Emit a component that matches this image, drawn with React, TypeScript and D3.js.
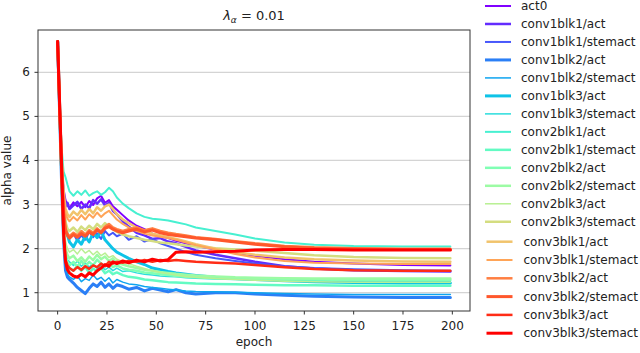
import * as d3 from "d3";

// sampled epochs (dense early, sparse once curves flatten)
const epochs = [0, 1, 2, 3, 4, 5, 6, 8, 10, 12, 14, 16, 18, 20, 22, 24, 26, 28, 30, 33, 36, 40, 44, 48, 52, 56, 60, 65, 70, 80, 90, 100, 115, 130, 150, 175, 199];

const names = [
  "act0",
  "conv1blk1/act", "conv1blk1/stemact",
  "conv1blk2/act", "conv1blk2/stemact",
  "conv1blk3/act", "conv1blk3/stemact",
  "conv2blk1/act", "conv2blk1/stemact",
  "conv2blk2/act", "conv2blk2/stemact",
  "conv2blk3/act", "conv2blk3/stemact",
  "conv3blk1/act", "conv3blk1/stemact",
  "conv3blk2/act", "conv3blk2/stemact",
  "conv3blk3/act", "conv3blk3/stemact",
];

const act0 = [6.7, 5.3, 4.0, 3.35, 3.1, 2.98, 2.92, 3.05, 2.96, 3.06, 2.94, 3.08, 2.99, 3.14, 3.2, 3.04, 3.1, 2.96, 2.88, 2.76, 2.64, 2.52, 2.44, 2.34, 2.28, 2.24, 2.18, 2.12, 2.06, 1.98, 1.9, 1.84, 1.76, 1.7, 1.66, 1.63, 1.62];
const c1b1Act = [6.7, 5.25, 3.9, 3.2, 2.96, 3.04, 2.9, 2.98, 3.06, 2.9, 3.0, 2.92, 3.1, 3.02, 3.12, 2.98, 3.04, 2.86, 2.78, 2.62, 2.5, 2.36, 2.3, 2.22, 2.24, 2.16, 2.12, 2.04, 1.96, 1.86, 1.78, 1.7, 1.6, 1.55, 1.51, 1.49, 1.48];
const c1b1Stem = [6.7, 5.2, 3.7, 2.8, 2.45, 2.3, 2.22, 2.34, 2.18, 2.3, 2.2, 2.38, 2.26, 2.35, 2.22, 2.4, 2.3, 2.36, 2.28, 2.34, 2.2, 2.28, 2.16, 2.22, 2.12, 2.06, 2.0, 1.92, 1.86, 1.78, 1.72, 1.66, 1.6, 1.56, 1.53, 1.51, 1.5];
const c1b2Act = [6.7, 5.1, 3.5, 2.2, 1.5, 1.35, 1.3, 1.22, 1.12, 1.05, 0.98, 1.1, 1.2, 1.14, 1.24, 1.12, 1.2, 1.1, 1.18, 1.14, 1.08, 1.12, 1.04, 1.1, 1.06, 1.02, 1.07, 1.0, 0.97, 1.0, 1.0, 0.97, 0.94, 0.92, 0.9, 0.89, 0.89];
const c1b2Stem = [6.7, 5.15, 3.6, 2.4, 1.6, 1.42, 1.36, 1.3, 1.38, 1.25, 1.32, 1.28, 1.4, 1.3, 1.35, 1.26, 1.34, 1.22, 1.3, 1.24, 1.2, 1.18, 1.14, 1.12, 1.1, 1.08, 1.06, 1.04, 1.03, 1.02, 1.01, 1.0, 0.98, 0.97, 0.96, 0.96, 0.96];
const c1b3Act = [6.7, 5.25, 3.8, 2.9, 2.5, 2.3, 2.15, 2.04, 2.2, 2.1, 2.28, 2.15, 2.36, 2.25, 2.4, 2.2, 2.1, 2.0, 1.92, 1.85, 1.78, 1.7, 1.64, 1.56, 1.52, 1.48, 1.45, 1.42, 1.39, 1.35, 1.32, 1.3, 1.27, 1.25, 1.23, 1.22, 1.22];
const c1b3Stem = [6.7, 5.2, 3.6, 2.5, 1.9, 1.75, 1.7, 1.62, 1.72, 1.6, 1.68, 1.58, 1.66, 1.55, 1.62, 1.52, 1.58, 1.5, 1.56, 1.48, 1.5, 1.45, 1.42, 1.4, 1.38, 1.37, 1.36, 1.34, 1.33, 1.31, 1.3, 1.29, 1.28, 1.27, 1.27, 1.26, 1.26];
const c2b1Act = [6.7, 5.35, 4.3, 3.75, 3.62, 3.45, 3.3, 3.2, 3.3, 3.22, 3.32, 3.2, 3.26, 3.3, 3.22, 3.28, 3.38, 3.3, 3.16, 3.02, 2.92, 2.8, 2.72, 2.68, 2.66, 2.64, 2.6, 2.55, 2.48, 2.4, 2.32, 2.23, 2.14, 2.09, 2.06, 2.05, 2.05];
const c2b1Stem = [6.7, 5.15, 3.5, 2.3, 1.75, 1.62, 1.55, 1.5, 1.62, 1.5, 1.58, 1.45, 1.55, 1.48, 1.56, 1.44, 1.5, 1.42, 1.46, 1.4, 1.36, 1.34, 1.3, 1.28, 1.26, 1.24, 1.23, 1.22, 1.21, 1.2, 1.19, 1.18, 1.17, 1.17, 1.16, 1.16, 1.16];
const c2b2Act = [6.7, 5.2, 3.6, 2.45, 1.85, 1.68, 1.62, 1.7, 1.58, 1.72, 1.6, 1.7, 1.62, 1.75, 1.66, 1.6, 1.68, 1.58, 1.62, 1.55, 1.52, 1.5, 1.46, 1.44, 1.42, 1.4, 1.38, 1.36, 1.35, 1.33, 1.32, 1.31, 1.3, 1.3, 1.29, 1.29, 1.29];
const c2b2Stem = [6.7, 5.2, 3.65, 2.6, 2.0, 1.85, 1.78, 1.84, 1.72, 1.8, 1.7, 1.82, 1.74, 1.86, 1.76, 1.82, 1.72, 1.78, 1.68, 1.64, 1.6, 1.56, 1.52, 1.5, 1.47, 1.45, 1.43, 1.41, 1.39, 1.37, 1.35, 1.34, 1.33, 1.32, 1.32, 1.32, 1.32];
const c2b3Act = [6.7, 5.25, 3.75, 2.8, 2.15, 2.0, 1.92, 1.98, 1.88, 2.0, 1.9, 1.96, 1.86, 1.94, 1.84, 1.9, 1.8, 1.84, 1.76, 1.7, 1.66, 1.6, 1.55, 1.5, 1.46, 1.43, 1.4, 1.37, 1.35, 1.32, 1.3, 1.28, 1.26, 1.25, 1.24, 1.24, 1.24];
const c2b3Stem = [6.7, 5.3, 3.95, 3.1, 2.6, 2.45, 2.4, 2.48, 2.38, 2.5, 2.42, 2.52, 2.44, 2.56, 2.48, 2.58, 2.5, 2.44, 2.38, 2.32, 2.28, 2.24, 2.2, 2.17, 2.14, 2.12, 2.1, 2.07, 2.05, 2.01, 1.98, 1.95, 1.9, 1.85, 1.81, 1.79, 1.78];
const c3b1Act = [6.7, 5.3, 4.1, 3.3, 2.9, 2.78, 2.72, 2.84, 2.76, 2.88, 2.78, 2.9, 2.8, 2.94, 2.86, 2.96, 3.0, 2.9, 2.78, 2.66, 2.58, 2.48, 2.4, 2.34, 2.3, 2.26, 2.22, 2.16, 2.1, 2.0, 1.92, 1.86, 1.8, 1.76, 1.73, 1.71, 1.7];
const c3b1Stem = [6.7, 5.3, 4.05, 3.2, 2.8, 2.68, 2.62, 2.72, 2.64, 2.76, 2.66, 2.78, 2.7, 2.82, 2.72, 2.8, 2.86, 2.76, 2.66, 2.56, 2.48, 2.4, 2.34, 2.3, 2.27, 2.24, 2.2, 2.14, 2.08, 1.98, 1.88, 1.8, 1.72, 1.68, 1.66, 1.65, 1.65];
const c3b2Act = [6.7, 5.25, 3.85, 2.9, 2.45, 2.34, 2.28, 2.36, 2.3, 2.4, 2.32, 2.42, 2.36, 2.46, 2.38, 2.5, 2.56, 2.48, 2.44, 2.4, 2.44, 2.48, 2.42, 2.46, 2.4, 2.36, 2.33, 2.3, 2.26, 2.22, 2.17, 2.12, 2.06, 2.03, 2.01, 2.0, 2.0];
const c3b2Stem = [6.7, 5.25, 3.8, 2.8, 2.4, 2.3, 2.24, 2.32, 2.26, 2.34, 2.28, 2.38, 2.32, 2.42, 2.36, 2.46, 2.5, 2.44, 2.4, 2.36, 2.4, 2.44, 2.38, 2.42, 2.36, 2.32, 2.3, 2.27, 2.24, 2.2, 2.15, 2.1, 2.04, 2.01, 1.99, 1.98, 1.98];
const c3b3Act = [6.7, 5.2, 3.6, 2.3, 1.75, 1.62, 1.56, 1.5, 1.58, 1.52, 1.6, 1.54, 1.62, 1.58, 1.66, 1.6, 1.7, 1.66, 1.7, 1.68, 1.72, 1.7, 1.74, 1.7, 1.74, 1.72, 1.74, 1.72, 1.7, 1.68, 1.66, 1.63, 1.58, 1.54, 1.51, 1.5, 1.5];
const c3b3Stem = [6.7, 5.3, 3.9, 2.4, 1.7, 1.52, 1.45, 1.38, 1.35, 1.42, 1.36, 1.45, 1.4, 1.5, 1.56, 1.64, 1.6, 1.7, 1.66, 1.72, 1.68, 1.74, 1.7, 1.76, 1.72, 1.75, 1.92, 1.93, 1.92, 1.93, 1.94, 1.97, 1.98, 1.98, 1.97, 1.97, 1.97];

const series = [act0, c1b1Act, c1b1Stem, c1b2Act, c1b2Stem, c1b3Act, c1b3Stem, c2b1Act, c2b1Stem, c2b2Act, c2b2Stem, c2b3Act, c2b3Stem, c3b1Act, c3b1Stem, c3b2Act, c3b2Stem, c3b3Act, c3b3Stem];

const xTicks = [0, 25, 50, 75, 100, 125, 150, 175, 200];
const yTicks = [1, 2, 3, 4, 5, 6];

// line widths per series
const widths = [2, 2.5, 2, 3, 1.5, 3, 1.5, 2, 2.5, 2.5, 2.5, 1.5, 2.5, 2.5, 2, 2.5, 3, 2.5, 3];

// matplotlib "rainbow" colormap
const rainbow = (t: number) => {
  const r = Math.min(1, Math.abs(2 * t - 0.5));
  const g = Math.sin(Math.PI * t);
  const b = Math.cos((Math.PI * t) / 2);
  return d3.rgb(r * 255, g * 255, b * 255).formatHex();
};

const W = 640, H = 353;
const left = 38, right = 470, top = 30, bottom = 311;
const font = "DejaVu Sans, sans-serif";

export default function App() {
  const x = d3.scaleLinear().domain([-9.95, 208.95]).range([left, right]);
  const y = d3.scaleLinear().domain([0.585, 6.96]).range([bottom, top]);
  const line = d3.line<number>().x((_, i) => x(epochs[i])).y((d) => y(d));

  return (
    <svg width={W} height={H} style={{ position: "absolute", left: 0, top: 0, background: "#fff" }} fontFamily={font}>
      <defs>
        <clipPath id="plot">
          <rect x={left} y={top} width={right - left} height={bottom - top} />
        </clipPath>
      </defs>

      {/* grid */}
      {yTicks.map((t) => (
        <line key={t} x1={left} x2={right} y1={y(t)} y2={y(t)} stroke="#d4d4d4" strokeWidth={1.2} />
      ))}

      {/* curves */}
      <g clipPath="url(#plot)" fill="none" strokeLinejoin="round" strokeLinecap="round">
        {series.map((s, i) => (
          <path key={names[i]} d={line(s) || ""} stroke={rainbow(i / (series.length - 1))} strokeWidth={widths[i]} />
        ))}
      </g>

      {/* frame */}
      <rect x={left} y={top} width={right - left} height={bottom - top} fill="none" stroke="#333" strokeWidth={1} />

      {/* x axis */}
      {xTicks.map((t) => (
        <g key={t} transform={`translate(${x(t)},${bottom})`}>
          <line y2={3.5} stroke="#333" />
          <text y={15} textAnchor="middle" fontSize={12} fill="#222" dominantBaseline="middle">{t}</text>
        </g>
      ))}
      <text x={(left + right) / 2} y={346} textAnchor="middle" fontSize={12} fill="#222">epoch</text>

      {/* y axis */}
      {yTicks.map((t) => (
        <g key={t} transform={`translate(${left},${y(t)})`}>
          <line x2={-3.5} stroke="#333" />
          <text x={-8} textAnchor="end" fontSize={12} fill="#222" dominantBaseline="central">{t}</text>
        </g>
      ))}
      <text transform={`translate(11,${(top + bottom) / 2}) rotate(-90)`} textAnchor="middle" fontSize={12} fill="#222">alpha value</text>

      {/* title */}
      <text x={(left + right) / 2} y={20} textAnchor="middle" fontSize={13} fill="#222">
        <tspan fontStyle="italic">λ</tspan>
        <tspan fontStyle="italic" fontSize={9} dy={3}>α</tspan>
        <tspan dy={-3}> = 0.01</tspan>
      </text>

      {/* legend */}
      {names.map((n, i) => {
        const second = i >= 13;
        const ly = second ? 241.7 + 18.3 * (i - 13) : 6 + 17.98 * i;
        const lx = second ? 486.5 : 485;
        return (
          <g key={n} transform={`translate(${lx},${ly})`}>
            <line x1={0} x2={26} stroke={rainbow(i / (names.length - 1))} strokeWidth={widths[i]} />
            <text x={second ? 37 : 36} fontSize={12} fill="#222" dominantBaseline="central">{n}</text>
          </g>
        );
      })}
    </svg>
  );
}
